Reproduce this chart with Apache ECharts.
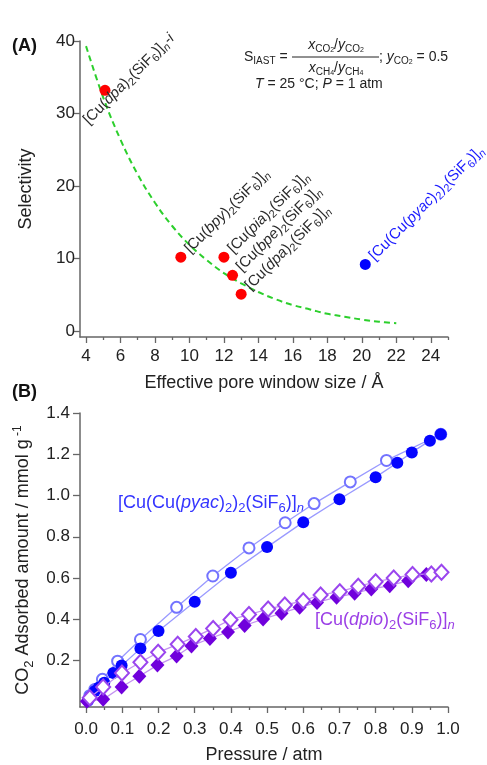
<!DOCTYPE html>
<html><head><meta charset="utf-8">
<script src="https://cdn.jsdelivr.net/npm/echarts@6/dist/echarts.min.js"></script>
<style>html,body{margin:0;padding:0;background:#fff}#c{width:487px;height:765px}</style>
</head><body><div id="c"></div>
<script>
const FONT = '"Liberation Sans", Arial, Helvetica, sans-serif';

// ---------- Panel A data ----------
const fitX = [4, 5, 6, 7, 8, 9, 10, 11, 12, 13, 14, 15, 16, 17, 18, 19, 20, 21, 22];
const fitY = [39.3, 32.2, 26.4, 21.6, 17.7, 14.5, 11.9, 9.8, 8.0, 6.6, 5.4, 4.4, 3.6, 3.0, 2.4, 2.0, 1.6, 1.3, 1.1];
const redX = [5.1, 9.5, 12.0, 12.5, 13.0];
const redY = [33.2, 10.2, 10.2, 7.7, 5.1];
const redNames = [
  '[Cu({it|dpa}){sub|2}(SiF{sub|6})]{subi|n}{it|-i}',
  '[Cu({it|bpy}){sub|2}(SiF{sub|6})]{subi|n}',
  '[Cu({it|pia}){sub|2}(SiF{sub|6})]{subi|n}',
  '[Cu({it|bpe}){sub|2}(SiF{sub|6})]{subi|n}',
  '[Cu({it|dpa}){sub|2}(SiF{sub|6})]{subi|n}'
];
const blueX = [20.2];
const blueY = [9.2];
const blueNames = ['[Cu(Cu({it|pyac}){sub|2}){sub|2}(SiF{sub|6})]{subi|n}'];
const xTicksA = [4, 6, 8, 10, 12, 14, 16, 18, 20, 22, 24];
const xMinorA = [5, 7, 9, 11, 13, 15, 17, 19, 21, 23, 25];
const yTicksA = [0, 10, 20, 30, 40];

// ---------- Panel B data ----------
const pyacFilledP = [0.005, 0.012, 0.024, 0.035, 0.05, 0.075, 0.098, 0.15, 0.2, 0.3, 0.4, 0.5, 0.6, 0.7, 0.8, 0.86, 0.9, 0.95, 0.98];
const pyacFilledQ = [0.005, 0.025, 0.052, 0.07, 0.093, 0.14, 0.176, 0.258, 0.343, 0.485, 0.626, 0.75, 0.871, 0.982, 1.089, 1.159, 1.209, 1.266, 1.297];
const pyacOpenP = [0.01, 0.024, 0.045, 0.087, 0.15, 0.25, 0.35, 0.45, 0.55, 0.63, 0.73, 0.83, 0.98];
const pyacOpenQ = [0.03, 0.06, 0.109, 0.197, 0.302, 0.458, 0.61, 0.746, 0.868, 0.961, 1.066, 1.17, 1.297];
const dpioFilledP = [0.002, 0.047, 0.098, 0.147, 0.197, 0.25, 0.291, 0.342, 0.392, 0.438, 0.489, 0.54, 0.59, 0.638, 0.692, 0.742, 0.788, 0.839, 0.89, 0.94];
const dpioFilledQ = [0.003, 0.012, 0.072, 0.124, 0.178, 0.222, 0.271, 0.307, 0.339, 0.37, 0.401, 0.43, 0.458, 0.482, 0.507, 0.526, 0.547, 0.563, 0.587, 0.617];
const dpioOpenP = [0.01, 0.047, 0.099, 0.15, 0.199, 0.253, 0.303, 0.351, 0.399, 0.45, 0.503, 0.549, 0.6, 0.648, 0.701, 0.752, 0.8, 0.85, 0.902, 0.954, 0.982];
const dpioOpenQ = [0.02, 0.072, 0.14, 0.192, 0.24, 0.279, 0.317, 0.356, 0.398, 0.423, 0.45, 0.469, 0.49, 0.518, 0.534, 0.56, 0.582, 0.6, 0.617, 0.62, 0.628];
const xTicksB = [0, 0.1, 0.2, 0.3, 0.4, 0.5, 0.6, 0.7, 0.8, 0.9, 1.0];
const xMinorB = [0.05, 0.15, 0.25, 0.35, 0.45, 0.55, 0.65, 0.75, 0.85, 0.95];
const yTicksB = [0.2, 0.4, 0.6, 0.8, 1.0, 1.2, 1.4];

const zip = (a, b) => a.map((v, i) => [v, b[i]]);

const AX = '#666';
const TXT = '#222';

function richSmall(color) {
  return {
    it: { fontStyle: 'italic', fontSize: 15, color: color, fontFamily: FONT },
    sub: { fontSize: 11, lineHeight: 12, verticalAlign: 'bottom', color: color, fontFamily: FONT },
    subi: { fontSize: 11, lineHeight: 12, verticalAlign: 'bottom', fontStyle: 'italic', color: color, fontFamily: FONT }
  };
}
function richBigG(color) {
  return {
    it: { fontStyle: 'italic', fontSize: 18, fill: color, fontFamily: FONT },
    sub: { fontSize: 13, lineHeight: 12, verticalAlign: 'bottom', fill: color, fontFamily: FONT },
    subi: { fontSize: 13, lineHeight: 12, verticalAlign: 'bottom', fontStyle: 'italic', fill: color, fontFamily: FONT }
  };
}
function richFormula() {
  return {
    i: { fontStyle: 'italic', fontSize: 14, fill: TXT, fontFamily: FONT },
    s: { fontSize: 10, lineHeight: 10, verticalAlign: 'bottom', fill: TXT, fontFamily: FONT },
    ss: { fontSize: 7, lineHeight: 7, verticalAlign: 'bottom', fill: TXT, fontFamily: FONT }
  };
}

function valueAxis(extra) {
  return Object.assign({
    type: 'value',
    splitLine: { show: false },
    axisLine: { show: true, onZero: false, lineStyle: { color: AX, width: 1.5 } },
    axisTick: { show: true, length: 6, lineStyle: { color: AX, width: 1.3 } },
    axisLabel: { color: TXT, fontSize: 17, fontFamily: FONT },
    nameTextStyle: { color: TXT, fontSize: 18, fontFamily: FONT },
    nameLocation: 'middle'
  }, extra);
}

const chart = echarts.init(document.getElementById('c'), null, { renderer: 'canvas' });

const redData = redX.map((x, i) => {
  const item = { value: [x, redY[i]], label: { formatter: redNames[i] } };
  if (i === 0) item.label.offset = [-36, 9];
  return item;
});
const blueData = blueX.map((x, i) => ({ value: [x, blueY[i]], label: { formatter: blueNames[i] } }));

const option = {
  animation: false,
  backgroundColor: '#fff',
  textStyle: { fontFamily: FONT },
  grid: [
    { left: 80, right: 39, top: 41, height: 296 },
    { left: 80, right: 39, top: 413, height: 294 }
  ],
  xAxis: [
    valueAxis({
      gridIndex: 0, min: 3.65, max: 25, position: 'bottom',
      axisTick: { show: true, length: 6, customValues: xTicksA, lineStyle: { color: AX, width: 1.3 } },
      axisLabel: { customValues: xTicksA, color: TXT, fontSize: 17, fontFamily: FONT, margin: 11 },
      name: 'Effective pore window size / Å', nameGap: 37
    }),
    valueAxis({
      gridIndex: 0, min: 3.65, max: 25, position: 'bottom',
      axisLine: { show: false, onZero: false },
      axisTick: { show: true, length: 3, customValues: xMinorA, lineStyle: { color: AX, width: 1.3 } },
      axisLabel: { show: false }
    }),
    valueAxis({
      gridIndex: 1, min: -0.017, max: 1.0, position: 'bottom',
      axisTick: { show: true, length: 6, customValues: xTicksB, lineStyle: { color: AX, width: 1.3 } },
      axisLabel: { customValues: xTicksB, color: TXT, fontSize: 17, fontFamily: FONT, margin: 14,
        formatter: v => Number(v).toFixed(1) },
      name: 'Pressure / atm', nameGap: 39
    }),
    valueAxis({
      gridIndex: 1, min: -0.017, max: 1.0, position: 'bottom',
      axisLine: { show: false, onZero: false },
      axisTick: { show: true, length: 3, customValues: xMinorB, lineStyle: { color: AX, width: 1.3 } },
      axisLabel: { show: false }
    })
  ],
  yAxis: [
    valueAxis({
      gridIndex: 0, min: -0.8, max: 40, position: 'left',
      axisTick: { show: true, length: 6, customValues: yTicksA, lineStyle: { color: AX, width: 1.3 } },
      axisLabel: { customValues: yTicksA, color: TXT, fontSize: 17, fontFamily: FONT, margin: 5 },
      name: 'Selectivity', nameGap: 45
    }),
    valueAxis({
      gridIndex: 1, min: -0.025, max: 1.4, position: 'left',
      axisTick: { show: true, length: 7, customValues: yTicksB, lineStyle: { color: AX, width: 1.3 } },
      axisLabel: { customValues: yTicksB, color: TXT, fontSize: 17, fontFamily: FONT, margin: 10,
        formatter: v => Number(v).toFixed(1) },
      name: 'CO{sub|2} Adsorbed amount / mmol g{sup| -1}', nameGap: 39,
      nameTextStyle: {
        color: TXT, fontSize: 18, fontFamily: FONT, lineHeight: 24,
        rich: {
          sub: { fontSize: 13, lineHeight: 12, verticalAlign: 'bottom', color: TXT, fontFamily: FONT },
          sup: { fontSize: 12, lineHeight: 12, verticalAlign: 'top', color: TXT, fontFamily: FONT }
        }
      }
    })
  ],
  series: [
    {
      type: 'line', xAxisIndex: 0, yAxisIndex: 0,
      data: zip(fitX, fitY), smooth: 0.4, showSymbol: false, silent: true,
      lineStyle: { color: '#2ccf2c', width: 2, type: [6, 4] }, z: 2
    },
    {
      type: 'scatter', xAxisIndex: 0, yAxisIndex: 0,
      data: redData, symbol: 'circle', symbolSize: 11,
      itemStyle: { color: '#ff0000', opacity: 1 }, z: 3,
      label: {
        show: true, position: 'inside', align: 'left', verticalAlign: 'middle',
        rotate: 45, offset: [9, 0], fontSize: 15, lineHeight: 20, color: '#2a2a2a', fontFamily: FONT,
        rich: richSmall('#2a2a2a')
      }
    },
    {
      type: 'scatter', xAxisIndex: 0, yAxisIndex: 0,
      data: blueData, symbol: 'circle', symbolSize: 11,
      itemStyle: { color: '#0000ff', opacity: 1 }, z: 3,
      label: {
        show: true, position: 'inside', align: 'left', verticalAlign: 'middle',
        rotate: 45, offset: [9, 0], fontSize: 15, lineHeight: 20, color: '#1a1aff', fontFamily: FONT,
        rich: richSmall('#1a1aff')
      }
    },
    {
      type: 'line', xAxisIndex: 2, yAxisIndex: 1,
      data: zip(pyacOpenP, pyacOpenQ), symbol: 'emptyCircle', symbolSize: 11, showAllSymbol: true,
      itemStyle: { color: '#7373ff', borderWidth: 1.3 },
      lineStyle: { color: '#9a9aff', width: 1.3 }, z: 2
    },
    {
      type: 'line', xAxisIndex: 2, yAxisIndex: 1,
      data: zip(pyacFilledP, pyacFilledQ), symbol: 'circle', symbolSize: 12, showAllSymbol: true,
      itemStyle: { color: '#0505ff' },
      lineStyle: { color: '#9a9aff', width: 1.3 }, z: 3
    },
    {
      type: 'line', xAxisIndex: 2, yAxisIndex: 1,
      data: zip(dpioFilledP, dpioFilledQ), symbol: 'diamond', symbolSize: [14, 15], showAllSymbol: true,
      itemStyle: { color: '#7000dc' },
      lineStyle: { color: '#c493f0', width: 1.3 }, z: 4
    },
    {
      type: 'line', xAxisIndex: 2, yAxisIndex: 1,
      data: zip(dpioOpenP, dpioOpenQ), symbol: 'emptyDiamond', symbolSize: [14, 15], showAllSymbol: true,
      itemStyle: { color: '#9a45ee', borderWidth: 1.3 },
      lineStyle: { color: '#c493f0', width: 1.3 }, z: 5
    }
  ],
  graphic: [
    { type: 'text', x: 12, y: 46, style: { text: '(A)', fontSize: 18, fontWeight: 'bold', fontFamily: FONT, fill: '#111', align: 'left', verticalAlign: 'middle' } },
    { type: 'text', x: 12, y: 392, style: { text: '(B)', fontSize: 18, fontWeight: 'bold', fontFamily: FONT, fill: '#111', align: 'left', verticalAlign: 'middle' } },
    { type: 'text', x: 244, y: 57, style: { text: 'S{s|IAST} =', fontSize: 14, lineHeight: 18, fontFamily: FONT, fill: TXT, align: 'left', verticalAlign: 'middle', rich: richFormula() } },
    { type: 'line', shape: { x1: 292, y1: 57, x2: 379, y2: 57 }, style: { stroke: TXT, lineWidth: 1 } },
    { type: 'text', x: 336, y: 45, style: { text: '{i|x}{s|CO}{ss|2}/{i|y}{s|CO}{ss|2}', fontSize: 14, lineHeight: 18, fontFamily: FONT, fill: TXT, align: 'center', verticalAlign: 'middle', rich: richFormula() } },
    { type: 'text', x: 336, y: 68, style: { text: '{i|x}{s|CH}{ss|4}/{i|y}{s|CH}{ss|4}', fontSize: 14, lineHeight: 18, fontFamily: FONT, fill: TXT, align: 'center', verticalAlign: 'middle', rich: richFormula() } },
    { type: 'text', x: 379, y: 57, style: { text: '; {i|y}{s|CO}{ss|2} = 0.5', fontSize: 14, lineHeight: 18, fontFamily: FONT, fill: TXT, align: 'left', verticalAlign: 'middle', rich: richFormula() } },
    { type: 'text', x: 255, y: 84, style: { text: '{i|T} = 25 °C; {i|P} = 1 atm', fontSize: 14, lineHeight: 18, fontFamily: FONT, fill: TXT, align: 'left', verticalAlign: 'middle', rich: richFormula() } },
    { type: 'text', x: 118, y: 503, style: { text: '[Cu(Cu({it|pyac}){sub|2}){sub|2}(SiF{sub|6})]{subi|n}', fontSize: 18, lineHeight: 24, fontFamily: FONT, fill: '#3434ff', align: 'left', verticalAlign: 'middle', rich: richBigG('#3434ff') } },
    { type: 'text', x: 315, y: 620, style: { text: '[Cu({it|dpio}){sub|2}(SiF{sub|6})]{subi|n}', fontSize: 18, lineHeight: 24, fontFamily: FONT, fill: '#9b3fe6', align: 'left', verticalAlign: 'middle', rich: richBigG('#9b3fe6') } }
  ]
};
chart.setOption(option);
</script>
</body></html>
